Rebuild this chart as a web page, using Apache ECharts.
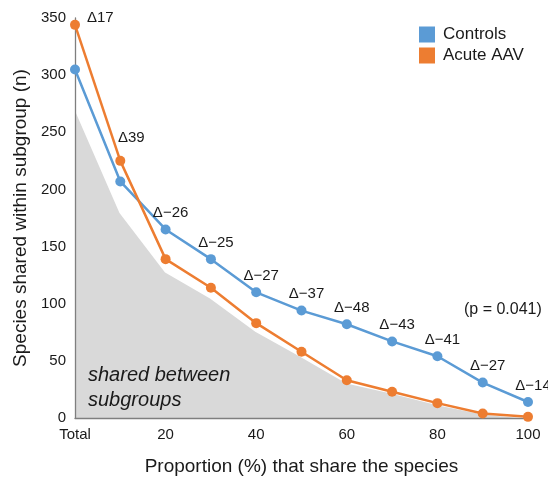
<!DOCTYPE html>
<html>
<head>
<meta charset="utf-8">
<script src="https://cdn.jsdelivr.net/npm/echarts@6/dist/echarts.min.js"></script>
<style>
  html, body { margin: 0; padding: 0; background: #fff; }
  #chart { width: 548px; height: 481px; }
</style>
</head>
<body>
<div id="chart"></div>
<script>
// Proportion of subgroup members sharing a species
const categories = ['Total', '10', '20', '30', '40', '50', '60', '70', '80', '90', '100'];

// Number of species shared within each subgroup
const controls = [305, 207, 165, 139, 110, 94, 82, 67, 54, 31, 14];
const acuteAAV = [344, 225, 139, 114, 83, 58, 33, 23, 13, 4, 1];

// Species shared between both subgroups
const sharedBetween = [271, 180, 128, 105, 76, 54, 31, 22, 12, 4, 0];

// Difference labels per proportion
const deltas = ['\u039417', '\u039439', '\u0394\u221226', '\u0394\u221225', '\u0394\u221227',
  '\u0394\u221237', '\u0394\u221248', '\u0394\u221243', '\u0394\u221241', '\u0394\u221227', '\u0394\u221214'];

const BLUE = '#5b9bd5';
const ORANGE = '#ed7d31';
const TEXT = '#1a1a1a';
const FONT = '"Liberation Sans", Arial, sans-serif';

const deltaLabel = (text, extra) => Object.assign({
  show: true, formatter: text, color: TEXT, fontSize: 15, fontFamily: FONT
}, extra);

// The first two differences sit next to the Acute AAV points, the rest above Controls
const controlsData = controls.map((v, i) => i < 2 ? v : {
  value: v,
  label: deltaLabel(deltas[i], { position: 'top', offset: [5, 1] })
});
const acuteData = acuteAAV.map((v, i) => {
  if (i === 0) return { value: v, label: deltaLabel(deltas[i], { position: 'right', offset: [2, -7] }) };
  if (i === 1) return { value: v, label: deltaLabel(deltas[i], { position: 'top', offset: [11, -5] }) };
  return v;
});

const chart = echarts.init(document.getElementById('chart'), null, { renderer: 'canvas' });
chart.setOption({
  animation: false,
  backgroundColor: '#fff',
  textStyle: { fontFamily: FONT },
  grid: { left: 75, right: 20, top: 18, bottom: 56, containLabel: false },
  legend: {
    data: ['Controls', 'Acute AAV'],
    orient: 'vertical',
    left: 419, top: 26,
    padding: 0,
    icon: 'rect',
    itemWidth: 16, itemHeight: 16, itemGap: 4,
    textStyle: { color: TEXT, fontSize: 17, fontFamily: FONT, padding: [0, 0, 0, 3] }
  },
  xAxis: {
    type: 'category',
    data: categories,
    boundaryGap: false,
    z: 5,
    name: 'Proportion (%) that share the species',
    nameLocation: 'middle',
    nameGap: 39,
    nameTextStyle: { color: TEXT, fontSize: 19, fontFamily: FONT },
    axisLine: { lineStyle: { color: '#7f7f7f', width: 1.3 } },
    axisTick: { show: false },
    axisLabel: { interval: 1, color: TEXT, fontSize: 15, margin: 9, fontFamily: FONT },
    splitLine: { show: false }
  },
  yAxis: {
    type: 'value',
    min: 0, max: 350, interval: 50,
    z: 5,
    name: 'Species shared within subgroup (n)',
    nameLocation: 'middle',
    nameGap: 41,
    nameTextStyle: { color: TEXT, fontSize: 19, fontFamily: FONT },
    axisLine: { show: true, lineStyle: { color: '#7f7f7f', width: 1.3 } },
    axisTick: { show: false },
    axisLabel: { color: TEXT, fontSize: 15, margin: 9, fontFamily: FONT },
    splitLine: { show: false }
  },
  series: [
    {
      name: 'shared',
      type: 'line',
      data: sharedBetween,
      symbol: 'none',
      lineStyle: { color: '#ffffff', width: 2 },
      areaStyle: { color: '#d9d9d9', opacity: 1 },
      z: 1,
      silent: true
    },
    {
      name: 'Controls',
      type: 'line',
      data: controlsData,
      symbol: 'circle',
      symbolSize: 10,
      color: BLUE,
      lineStyle: { color: BLUE, width: 2.5 },
      itemStyle: { color: BLUE },
      z: 6
    },
    {
      name: 'Acute AAV',
      type: 'line',
      data: acuteData,
      symbol: 'circle',
      symbolSize: 10,
      color: ORANGE,
      lineStyle: { color: ORANGE, width: 2.5 },
      itemStyle: { color: ORANGE },
      z: 7
    }
  ],
  graphic: [
    {
      type: 'text', left: 88, top: 363, z: 10,
      style: {
        text: 'shared between\nsubgroups',
        font: 'italic 20px ' + FONT,
        lineHeight: 25,
        fill: TEXT
      }
    },
    {
      type: 'text', left: 464, top: 302, z: 10,
      style: { text: '(p = 0.041)', font: '16px ' + FONT, fill: TEXT }
    }
  ]
});
</script>
</body>
</html>
